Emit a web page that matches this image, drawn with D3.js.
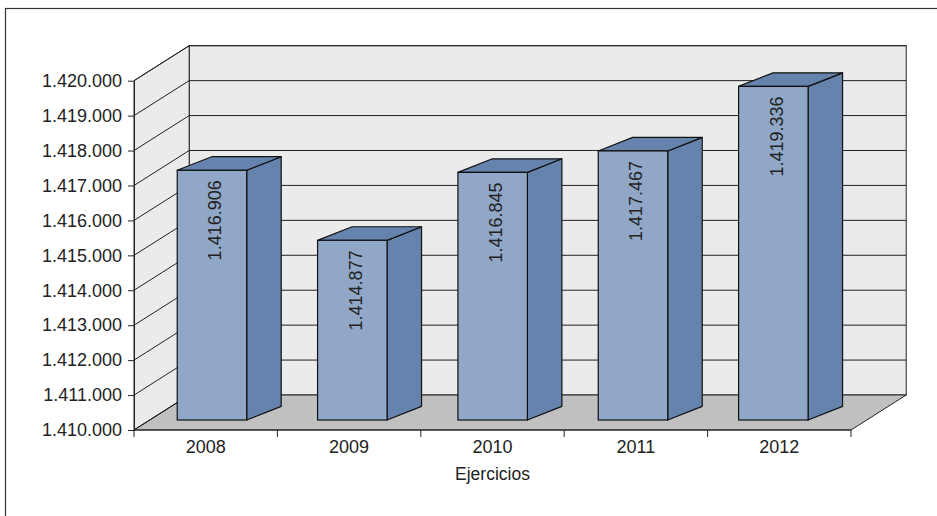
<!DOCTYPE html>
<html>
<head>
<meta charset="utf-8">
<script src="https://cdn.jsdelivr.net/npm/d3@7"></script>
<style>
  body { margin: 0; background: #fff; }
  svg { display: block; font-family: "Liberation Sans", Arial, Helvetica, sans-serif; }
</style>
</head>
<body>
<svg id="chart" width="937" height="516"></svg>
<script>
// Data
const years = ["2008", "2009", "2010", "2011", "2012"];
const values = [1416906, 1414877, 1416845, 1417467, 1419336];
const yTicks = [1410000, 1411000, 1412000, 1413000, 1414000, 1415000,
                1416000, 1417000, 1418000, 1419000, 1420000];
const xTitle = "Ejercicios";

// Spanish number format: 1.416.906
const fmt = d3.formatLocale({ decimal: ",", thousands: ".", grouping: [3], currency: ["", " €"] }).format(",d");

const svg = d3.select("#chart");
const W = 937, H = 516;

// Outer frame
svg.append("rect")
  .attr("x", 5.5).attr("y", 8.5)
  .attr("width", W).attr("height", H)
  .attr("fill", "none").attr("stroke", "#333").attr("stroke-width", 1.2);

// Front plane of the 3D box
const x0 = 134, x1 = 851;
const yWall = d3.scaleLinear().domain([yTicks[0], yTicks[yTicks.length - 1]]).range([430, 80.7]);
const xCat = d3.scaleBand().domain(years).range([x0, x1]);
const wall = { dx: 55.2, dy: -35 };

// Bar geometry (bars sit a little behind the front plane)
const barY = d3.scaleLinear().domain([yTicks[0], yTicks[yTicks.length - 1]]).range([408.7, 63.5]);
const xBar = d3.scaleBand().domain(years).range([141.8, 843.5]).paddingInner(0.505).paddingOuter(0.2525);
const barFloor = 420;
const bar = { dx: 34.5, dy: -13.6 };

const lineColor = "#222";
const yB = yWall.range()[0], yT = yWall.range()[1];

// Walls and floor
const g3d = svg.append("g");
g3d.append("rect")
  .attr("x", x0 + wall.dx).attr("y", yT + wall.dy)
  .attr("width", x1 - x0).attr("height", yB - yT)
  .attr("fill", "#ebebeb").attr("stroke", lineColor).attr("stroke-width", 1);

g3d.append("polygon")
  .attr("points", [[x0, yB], [x0, yT], [x0 + wall.dx, yT + wall.dy], [x0 + wall.dx, yB + wall.dy]].join(" "))
  .attr("fill", "#ebebeb").attr("stroke", lineColor).attr("stroke-width", 1);

g3d.append("polygon")
  .attr("points", [[x0, yB], [x1, yB], [x1 + wall.dx, yB + wall.dy], [x0 + wall.dx, yB + wall.dy]].join(" "))
  .attr("fill", "#c0c0c0").attr("stroke", lineColor).attr("stroke-width", 1);

// Gridlines on back wall and left wall
g3d.selectAll("line.grid").data(yTicks.slice(1)).join("line")
  .attr("class", "grid")
  .attr("x1", x0 + wall.dx).attr("x2", x1 + wall.dx)
  .attr("y1", d => yWall(d) + wall.dy).attr("y2", d => yWall(d) + wall.dy)
  .attr("stroke", lineColor).attr("stroke-width", 1);

g3d.selectAll("line.side").data(yTicks).join("line")
  .attr("class", "side")
  .attr("x1", x0).attr("x2", x0 + wall.dx)
  .attr("y1", d => yWall(d)).attr("y2", d => yWall(d) + wall.dy)
  .attr("stroke", lineColor).attr("stroke-width", 1);

// Bars
const frontFill = "#91a7c7", darkFill = "#6583ad", barStroke = "#111";
const bars = svg.append("g").selectAll("g").data(years.map((y, i) => ({ year: y, value: values[i] }))).join("g");

bars.each(function (d) {
  const g = d3.select(this);
  const xl = xBar(d.year), w = xBar.bandwidth(), yt = barY(d.value), yb = barFloor;
  g.append("polygon")
    .attr("points", [[xl + w, yt], [xl + w + bar.dx, yt + bar.dy], [xl + w + bar.dx, yb + bar.dy], [xl + w, yb]].join(" "))
    .attr("fill", darkFill).attr("stroke", barStroke).attr("stroke-width", 1.2).attr("stroke-linejoin", "round");
  g.append("polygon")
    .attr("points", [[xl, yt], [xl + bar.dx, yt + bar.dy], [xl + w + bar.dx, yt + bar.dy], [xl + w, yt]].join(" "))
    .attr("fill", darkFill).attr("stroke", barStroke).attr("stroke-width", 1.2).attr("stroke-linejoin", "round");
  g.append("rect")
    .attr("x", xl).attr("y", yt).attr("width", w).attr("height", yb - yt)
    .attr("fill", frontFill).attr("stroke", barStroke).attr("stroke-width", 1.2);
  g.append("text")
    .attr("transform", `translate(${xl + w / 2 + 3},${yt + 10}) rotate(-90)`)
    .attr("text-anchor", "end").attr("dy", "0.35em")
    .attr("font-size", 18).attr("fill", "#222")
    .text(fmt(d.value));
});

// Value axis
const yAxis = svg.append("g")
  .attr("transform", `translate(${x0},0)`)
  .call(d3.axisLeft(yWall).tickValues(yTicks).tickFormat(fmt).tickSize(6).tickSizeOuter(0).tickPadding(6));
yAxis.selectAll("text").attr("font-size", 18).attr("fill", "#222").attr("font-family", null);
yAxis.selectAll("line,path").attr("stroke", lineColor);
yAxis.attr("font-family", null);

// Category axis
const xAxis = svg.append("g")
  .attr("transform", `translate(0,${yB})`)
  .call(d3.axisBottom(xCat).tickSize(0).tickPadding(10.5));
xAxis.select(".domain").remove();
xAxis.selectAll("text").attr("font-size", 18).attr("fill", "#222");
xAxis.attr("font-family", null);

const bounds = years.map(y => xCat(y)).concat([xCat.range()[1]]);
svg.append("g").selectAll("line").data(bounds).join("line")
  .attr("x1", d => d).attr("x2", d => d)
  .attr("y1", yB).attr("y2", yB + 7)
  .attr("stroke", lineColor).attr("stroke-width", 1);

svg.append("line")
  .attr("x1", x0).attr("x2", x1).attr("y1", yB).attr("y2", yB)
  .attr("stroke", lineColor).attr("stroke-width", 1);

svg.append("text")
  .attr("x", (x0 + x1) / 2).attr("y", 480)
  .attr("text-anchor", "middle").attr("font-size", 17.5).attr("fill", "#222")
  .text(xTitle);
</script>
</body>
</html>
